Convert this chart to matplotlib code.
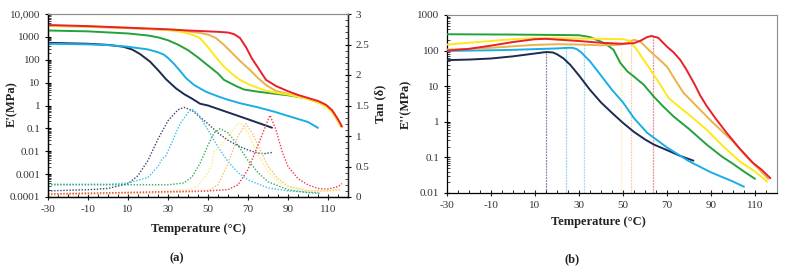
import numpy as np
import matplotlib
matplotlib.use("Agg")
import matplotlib.pyplot as plt
from matplotlib.ticker import FixedLocator, MultipleLocator, LogLocator, NullFormatter, FuncFormatter

plt.rcParams['font.family'] = ['Liberation Serif', 'DejaVu Serif']
plt.rcParams['axes.unicode_minus'] = False

# ---------------- colours per sample ----------------
sample_colors = ['#1c2b52', '#1aaee6', '#22a23c', '#ffe81a', '#eab24a', '#e8202e']
tan_colors = ['#3a4670', '#3cc0ea', '#39ad55', '#ffe97a', '#f2c070', '#ee3b4a']

# ---------------- panel (a): storage modulus E' (MPa) ----------------
Ea_navy_T = [-30, -10, 0, 7.5, 12, 16, 21, 25, 29, 34, 38, 42, 46, 50, 60, 70, 82]
Ea_navy = [550, 500, 447, 372, 282, 178, 83, 35.5, 14.1, 5.6, 3.16, 2.0, 1.2, 1.0, 0.50, 0.25, 0.107]

Ea_blue_T = [-30, -10, 0, 10, 20, 25, 28, 30, 33, 36, 39, 43, 46, 49, 55, 60, 66, 75, 83, 90, 100, 105]
Ea_blue = [500, 470, 437, 372, 282, 214, 166, 120, 66, 33, 15.8, 7.9, 5.6, 4.0, 2.5, 1.78, 1.26, 0.83, 0.54, 0.35, 0.19, 0.105]

Ea_green_T = [-30, -10, 10, 20, 25, 30, 35, 40, 45, 50, 55, 58, 64, 68, 75, 83, 90, 99, 105, 110]
Ea_green = [1900, 1740, 1410, 1150, 955, 710, 457, 263, 126, 56, 25, 13.2, 7.1, 5.0, 4.0, 3.3, 2.8, 2.1, 1.41, 0.9]

Ea_yellow_T = [-30, -10, 10, 30, 38, 42, 46, 50, 54, 58, 62, 66, 71, 79, 85, 90, 95, 100, 105, 110, 113, 116]
Ea_yellow = [3160, 2880, 2510, 2000, 1580, 1260, 890, 355, 126, 50, 24, 13.2, 7.9, 4.4, 3.5, 3.0, 2.4, 1.9, 1.35, 0.79, 0.40, 0.14]

Ea_orange_T = [-30, -10, 10, 30, 40, 46, 50, 54, 58, 62, 66, 71, 75, 79, 84, 90, 95, 100, 105, 110, 113, 116.5]
Ea_orange = [3020, 2750, 2400, 2000, 1740, 1480, 1260, 890, 447, 200, 89, 35.5, 15.8, 7.9, 4.3, 3.2, 2.5, 2.0, 1.41, 0.85, 0.45, 0.12]

Ea_red_T = [-30, -10, 10, 30, 40, 50, 55, 60, 63, 66, 69, 72, 75, 79, 84, 90, 95, 100, 105, 109, 112, 115, 117]
Ea_red = [3300, 2950, 2510, 2140, 1900, 1740, 1660, 1550, 1320, 890, 355, 112, 45, 13.2, 7.1, 4.2, 2.9, 2.14, 1.58, 1.07, 0.63, 0.25, 0.12]

# ---------------- panel (a): tan delta ----------------
tan_navy_T = [-30, -10, 0, 10, 15, 20, 25, 30, 35, 38, 42, 50, 55, 60, 65, 70, 75, 78, 82]
tan_navy = [0.10, 0.12, 0.14, 0.22, 0.35, 0.60, 0.95, 1.25, 1.43, 1.47, 1.42, 1.20, 1.05, 0.93, 0.84, 0.77, 0.72, 0.71, 0.73]

tan_blue_T = [-30, 0, 10, 20, 25, 27, 29, 32, 36, 40, 42, 45, 50, 55, 60, 65, 70, 80, 90, 100, 105]
tan_blue = [0.21, 0.21, 0.23, 0.32, 0.50, 0.62, 0.68, 0.90, 1.20, 1.38, 1.44, 1.36, 1.10, 0.82, 0.58, 0.40, 0.28, 0.15, 0.10, 0.08, 0.07]

tan_green_T = [-30, 30, 38, 42, 46, 50, 53, 56, 60, 65, 70, 75, 80, 90, 100, 106]
tan_green = [0.20, 0.20, 0.23, 0.33, 0.55, 0.85, 1.05, 1.12, 1.05, 0.85, 0.60, 0.40, 0.25, 0.12, 0.07, 0.06]

tan_yellow_T = [-30, 20, 40, 45, 50, 52, 53, 55, 60, 65, 67, 70, 75, 80, 85, 90, 100, 110, 115]
tan_yellow = [0.05, 0.08, 0.12, 0.18, 0.40, 0.55, 0.75, 0.80, 1.00, 1.20, 1.20, 1.05, 0.70, 0.42, 0.25, 0.16, 0.10, 0.10, 0.12]

tan_orange_T = [-30, 40, 50, 55, 60, 65, 69, 72, 75, 80, 85, 90, 100, 110, 116]
tan_orange = [0.03, 0.08, 0.10, 0.20, 0.55, 1.00, 1.20, 1.05, 0.85, 0.50, 0.30, 0.18, 0.10, 0.10, 0.12]

tan_red_T = [-30, 50, 60, 65, 70, 75, 78, 81, 84, 87, 90, 95, 100, 105, 110, 115, 117]
tan_red = [0.05, 0.10, 0.12, 0.20, 0.45, 0.85, 1.10, 1.34, 1.10, 0.75, 0.50, 0.30, 0.20, 0.14, 0.13, 0.17, 0.22]

# ---------------- panel (b): loss modulus E'' (MPa) ----------------
Eb_navy_T = [-30, -20, -10, 0, 10, 15, 18, 20, 23, 26, 30, 35, 40, 45, 50, 55, 60, 64, 70, 76, 82]
Eb_navy = [54, 56, 60, 69, 83, 91, 89, 79, 60, 40, 20, 7.9, 3.5, 1.78, 0.93, 0.52, 0.32, 0.23, 0.16, 0.11, 0.081]

Eb_blue_T = [-30, -20, -10, 0, 10, 20, 25, 27, 29, 31, 35, 40, 45, 50, 55, 61, 70, 80, 90, 100, 105]
Eb_blue = [98, 100, 102, 105, 110, 115, 120, 120, 110, 89, 50, 20, 7.9, 3.5, 1.26, 0.49, 0.19, 0.078, 0.038, 0.021, 0.015]

Eb_green_T = [-30, 0, 20, 30, 35, 40, 43, 45.7, 48.8, 52, 55, 59.4, 64, 68, 73, 80, 88, 95, 100, 105, 110]
Eb_green = [288, 282, 275, 270, 240, 178, 141, 105, 45, 26, 18.6, 11, 5.1, 2.8, 1.41, 0.63, 0.23, 0.105, 0.066, 0.04, 0.025]

Eb_yellow_T = [-30, -20, -10, 0, 10, 20, 30, 40, 50, 53, 56, 59.4, 62, 65.5, 70.7, 75, 80, 88, 95, 103, 110, 115.5]
Eb_yellow = [148, 166, 186, 209, 224, 224, 219, 214, 209, 190, 112, 55, 32, 15.1, 4.7, 2.8, 1.58, 0.60, 0.22, 0.078, 0.040, 0.021]

Eb_orange_T = [-30, -20, -10, 0, 10, 20, 30, 40, 48, 52, 55, 58, 62, 66, 70, 74, 77.5, 82, 86, 91, 100, 106, 112, 116]
Eb_orange = [107, 112, 120, 132, 145, 151, 148, 141, 145, 166, 200, 178, 100, 60, 35.5, 14.1, 6.5, 3.4, 1.9, 0.93, 0.28, 0.107, 0.045, 0.025]

Eb_red_T = [-30, -20, -10, 0, 10, 15, 20, 30, 40, 50, 55, 58, 61, 63, 66, 70, 73, 76, 78.5, 80.6, 83, 85, 88, 92, 97, 103, 109, 113, 117]
Eb_red = [100, 112, 138, 174, 209, 214, 204, 186, 166, 155, 162, 190, 240, 257, 229, 129, 89, 55, 31.6, 18.6, 10, 5.6, 2.8, 1.26, 0.50, 0.178, 0.071, 0.045, 0.026]

# vertical markers in (b)
vline_T = [15.1, 24.2, 32.1, 49.1, 53.8, 63.6]
vline_top = [91, 120, 165, 205, 215, 257]
vline_colors = ['#8a86a8', '#8fd6ef', '#a6dde6', '#fff0b8', '#f6cfa8', '#f08a94']

a_yticks = [1e-4, 1e-3, 1e-2, 1e-1, 1, 10, 100, 1000, 1e4]
a_yticklabels = ['0.0001', '0.001', '0.01', '0.1', '1', '10', '100', '1000', '10,000']
tan_ticks = [0, 0.5, 1, 1.5, 2, 2.5, 3]
tan_ticklabels = ['0', '0.5', '1', '1.5', '2', '2.5', '3']
b_yticks = [0.01, 0.1, 1, 10, 100, 1000]
b_yticklabels = ['0.01', '0.1', '1', '10', '100', '1000']
x_ticks = [-30, -10, 10, 30, 50, 70, 90, 110]
x_ticklabels = ['-30', '-10', '10', '30', '50', '70', '90', '110']

# ---------------- figure ----------------
W, H = 788, 270
fig = plt.figure(figsize=(W / 100, H / 100), dpi=100)

def rect(l, t, r, b):
    return [l / W, 1 - b / H, (r - l) / W, (b - t) / H]

axA = fig.add_axes(rect(48, 14, 348, 197))
axT = axA.twinx()
axB = fig.add_axes(rect(447, 15, 777, 193))

tick_fs = 8
tick_col = '#333333'
grey = '#8c8c8c'

def style_x(ax):
    ax.set_xlim(-30, 120)
    ax.set_xticks(x_ticks)
    ax.set_xticklabels(x_ticklabels)
    ax.xaxis.set_minor_locator(MultipleLocator(5))
    ax.tick_params(axis='x', which='major', direction='inout', length=5, width=0.8,
                   labelsize=tick_fs, colors='#222222', labelcolor=tick_col, pad=3)
    ax.tick_params(axis='x', which='minor', direction='in', length=2.5, width=0.6)

Ea = [(Ea_navy_T, Ea_navy), (Ea_blue_T, Ea_blue), (Ea_green_T, Ea_green),
      (Ea_yellow_T, Ea_yellow), (Ea_orange_T, Ea_orange), (Ea_red_T, Ea_red)]
tans = [(tan_navy_T, tan_navy), (tan_blue_T, tan_blue), (tan_green_T, tan_green),
        (tan_yellow_T, tan_yellow), (tan_orange_T, tan_orange), (tan_red_T, tan_red)]

draw_order = [0, 1, 2, 4, 3, 5]
for i in draw_order:
    T, v = tans[i]
    axT.plot(T, v, color=tan_colors[i], lw=1.0, ls=(0, (1, 1.2)), zorder=2)
for i in draw_order:
    T, v = Ea[i]
    axA.plot(T, v, color=sample_colors[i], lw=1.4, zorder=3, solid_capstyle='round')

axA.set_yscale('log')
axA.set_ylim(1e-4, 1e4)
axA.yaxis.set_major_locator(FixedLocator(a_yticks))
axA.yaxis.set_major_formatter(FuncFormatter(lambda v, p: a_yticklabels[a_yticks.index(v)] if v in a_yticks else ''))
axA.yaxis.set_minor_locator(LogLocator(base=10, subs=np.arange(2, 10), numticks=20))
axA.yaxis.set_minor_formatter(NullFormatter())
axA.tick_params(axis='y', which='major', direction='inout', length=5, width=0.8,
                labelsize=tick_fs, labelcolor=tick_col, pad=3)
axA.tick_params(axis='y', which='minor', direction='in', length=2.5, width=0.5)
style_x(axA)

axT.set_ylim(0, 3)
axT.set_yticks(tan_ticks)
axT.set_yticklabels(tan_ticklabels)
axT.yaxis.set_minor_locator(MultipleLocator(0.1))
axT.tick_params(axis='y', which='major', direction='inout', length=5, width=0.8,
                labelsize=tick_fs, labelcolor=tick_col, pad=3)
axT.tick_params(axis='y', which='minor', direction='in', length=2.5, width=0.5)

for ax in (axA, axT):
    ax.spines['top'].set_color(grey)
    ax.spines['top'].set_linewidth(0.8)
    ax.spines['left'].set_linewidth(0.9)
    ax.spines['bottom'].set_linewidth(0.9)
    ax.spines['right'].set_linewidth(0.9)
axT.spines['right'].set_color('#222222')

Eb = [(Eb_navy_T, Eb_navy), (Eb_blue_T, Eb_blue), (Eb_green_T, Eb_green),
      (Eb_yellow_T, Eb_yellow), (Eb_orange_T, Eb_orange), (Eb_red_T, Eb_red)]

for x, top, c in zip(vline_T, vline_top, vline_colors):
    axB.vlines(x, 0.01, top, colors=c, lw=0.9, linestyles=(0, (1.5, 0.8)), zorder=1)
for i in draw_order:
    T, v = Eb[i]
    axB.plot(T, v, color=sample_colors[i], lw=1.4, zorder=3, solid_capstyle='round')

axB.set_yscale('log')
axB.set_ylim(0.01, 1000)
axB.yaxis.set_major_locator(FixedLocator(b_yticks))
axB.yaxis.set_major_formatter(FuncFormatter(lambda v, p: b_yticklabels[b_yticks.index(v)] if v in b_yticks else ''))
axB.yaxis.set_minor_locator(LogLocator(base=10, subs=np.arange(2, 10), numticks=20))
axB.yaxis.set_minor_formatter(NullFormatter())
axB.tick_params(axis='y', which='major', direction='inout', length=5, width=0.8,
                labelsize=tick_fs, labelcolor=tick_col, pad=3)
axB.tick_params(axis='y', which='minor', direction='in', length=2.5, width=0.5)
style_x(axB)
for s in ('top', 'right'):
    axB.spines[s].set_color(grey)
    axB.spines[s].set_linewidth(0.8)
for s in ('left', 'bottom'):
    axB.spines[s].set_linewidth(0.9)

lab_fs = 9
fig.text(198 / W, 1 - 229 / H, 'Temperature (°C)', ha='center', va='center',
         fontsize=lab_fs, fontweight='bold', color='#222222')
fig.text(598 / W, 1 - 222 / H, 'Temperature (°C)', ha='center', va='center',
         fontsize=lab_fs, fontweight='bold', color='#222222')
fig.text(12 / W, 1 - 104 / H, "E'(MPa)", ha='center', va='center', rotation=90,
         fontsize=lab_fs, fontweight='bold', color='#222222')
fig.text(406 / W, 1 - 104 / H, "E''(MPa)", ha='center', va='center', rotation=90,
         fontsize=lab_fs, fontweight='bold', color='#222222')
fig.text(380 / W, 1 - 104 / H, 'Tan (δ)', ha='center', va='center', rotation=90,
         fontsize=lab_fs, fontweight='bold', color='#222222')
fig.text(177 / W, 1 - 258 / H, '(a)', ha='center', va='center',
         fontsize=lab_fs, fontweight='bold', color='#222222')
fig.text(572 / W, 1 - 259 / H, '(b)', ha='center', va='center',
         fontsize=lab_fs, fontweight='bold', color='#222222')

fig.savefig('out.png', dpi=100)
